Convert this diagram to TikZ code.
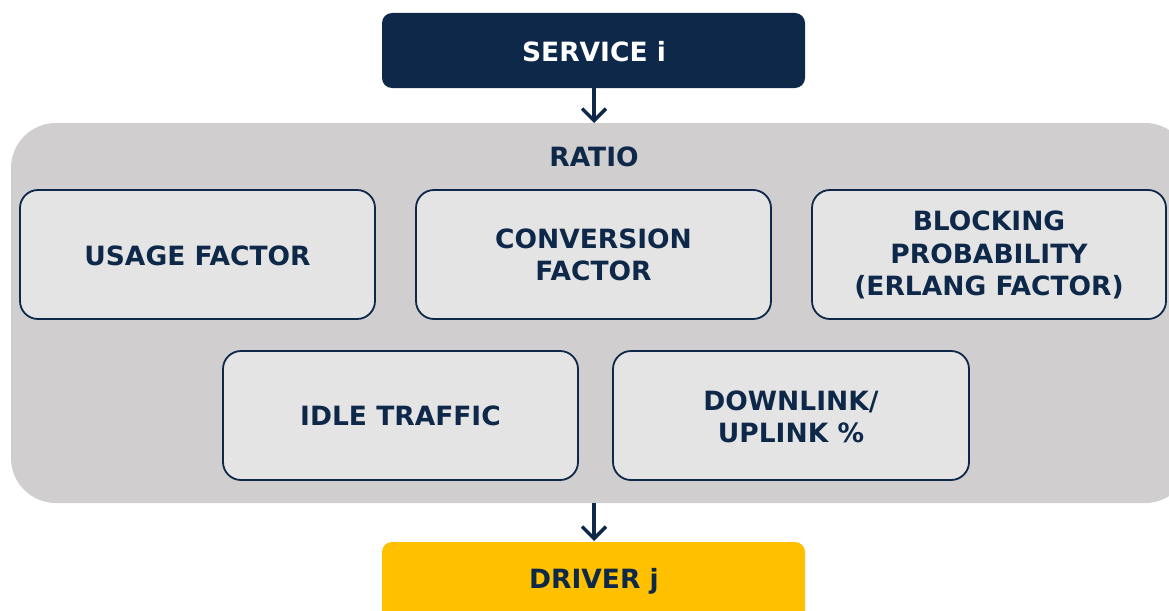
\documentclass[tikz,border=0pt]{standalone}
\usepackage{fontspec}
\setmainfont{DejaVu Sans}
\usetikzlibrary{arrows.meta}
\definecolor{navy}{HTML}{0E2849}
\definecolor{greybg}{HTML}{D0CECF}
\definecolor{innerbg}{HTML}{E4E4E4}
\definecolor{gold}{HTML}{FFC000}
\tikzset{
  lbl/.style={font=\bfseries\fontsize{26.5}{32.5}\selectfont, text=navy, align=center},
  inner/.style={draw=navy, line width=1.8pt, fill=innerbg, rounded corners=18pt},
  conn/.style={draw=navy, line width=3.4pt, -{Straight Barb[length=12pt,width=24pt,line width=3.4pt]}}
}
\begin{document}
\begin{tikzpicture}[x=1pt,y=-1pt]
\useasboundingbox (0,0) rectangle (1169,610);
% service
\fill[navy, rounded corners=10pt] (382,13) rectangle (805,88);
\node[lbl, text=white] (svc) at (594,52) {SERVICE i};
\coordinate (svcb) at (594,88);
% container
\fill[greybg, rounded corners=45pt] (11,123) rectangle (1190,503);
\coordinate (ratt) at (594,123);
\coordinate (ratb) at (594,503);
\node[lbl] (ratio) at (594,157) {RATIO};
% inner boxes
\draw[inner] (20,190) rectangle (375,319);
\node[lbl] (usage) at (197.5,256) {USAGE FACTOR};
\draw[inner] (416,190) rectangle (771,319);
\node[lbl] (conv) at (593.5,255) {CONVERSION\\FACTOR};
\draw[inner] (812,190) rectangle (1166,319);
\node[lbl] (block) at (989,255) {BLOCKING\\PROBABILITY\\(ERLANG FACTOR)};
\draw[inner] (223,351) rectangle (578,480);
\node[lbl] (idle) at (400.5,416) {IDLE TRAFFIC};
\draw[inner] (613,351) rectangle (969,480);
\node[lbl] (dl) at (791,417) {DOWNLINK/\\UPLINK \%};
% driver
\fill[gold, rounded corners=10pt] (382,542) rectangle (805,640);
\node[lbl] (drv) at (594,581) {DRIVER j};
\coordinate (drvt) at (594,541);
% arrows
\draw[conn] (svcb) -- (ratt);
\draw[conn] (ratb) -- (drvt);
\end{tikzpicture}
\end{document}
